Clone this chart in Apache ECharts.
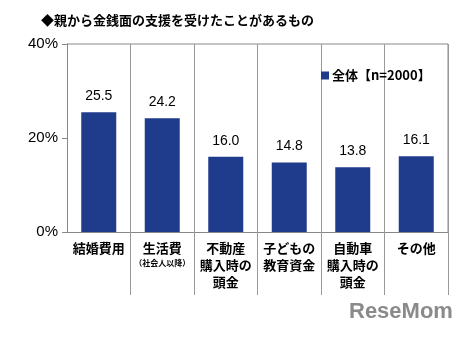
<!DOCTYPE html>
<html><head><meta charset="utf-8">
<script src="https://cdn.jsdelivr.net/npm/echarts@6/dist/echarts.min.js"></script>
<style>html,body{margin:0;padding:0;background:#fff}#c{width:458px;height:337px}</style>
</head><body><div id="c"></div>
<script>
const categories = ['結婚費用', '生活費\n{s|（社会人以降）}', '不動産\n購入時の\n頭金', '子どもの\n教育資金', '自動車\n購入時の\n頭金', 'その他'];
const values = [25.5, 24.2, 16.0, 14.8, 13.8, 16.1];
const seriesName = '全体【n=2000】';
const yTicks = [0, 20, 40];
const title = '◆親から金銭面の支援を受けたことがあるもの';

const font = '"Noto Sans CJK JP", sans-serif';
const chart = echarts.init(document.getElementById('c'));
chart.setOption({
  animation: false,
  textStyle: {fontFamily: font},
  title: {text: title, left: 36, top: 9, textStyle: {fontSize: 13, fontWeight: 'bold', color: '#000', fontFamily: font}},
  legend: {data: [seriesName], left: 316, top: 64, itemWidth: 8, itemHeight: 8, icon: 'rect', itemGap: 4,
    textStyle: {fontSize: 13, fontWeight: 'bold', color: '#000', fontFamily: font, padding: [0,0,0,-2]}},
  grid: {left: 67, right: 10, top: 44, bottom: 105},
  xAxis: {
    type: 'category', data: categories,
    axisLine: {show: true, lineStyle: {color: '#888', width: 1}},
    axisTick: {show: true, length: 63, interval: (i) => i !== 0, lineStyle: {color: '#999'}},
    splitLine: {show: true, interval: 0, lineStyle: {color: '#999'}},
    axisLabel: {interval: 0, margin: 8, fontSize: 13, fontWeight: 'bold', color: '#000', lineHeight: 17, fontFamily: font,
      rich: {s: {fontSize: 8, fontWeight: 'bold', lineHeight: 12, color: '#000'}}}
  },
  yAxis: {
    type: 'value', min: 0, max: 40, interval: 20,
    axisLine: {show: true, lineStyle: {color: '#888'}},
    axisTick: {show: true, length: 5, lineStyle: {color: '#888'}},
    splitLine: {show: false},
    axisLabel: {formatter: v => yTicks.includes(v) ? v + '%' : '', fontSize: 15, color: '#000', margin: 9, fontFamily: '"Liberation Sans", Arial, sans-serif'}
  },
  series: [{
    name: seriesName, type: 'bar', data: values, barWidth: 35,
    itemStyle: {color: '#1f3b8c'},
    label: {show: true, position: 'top', distance: 9, fontSize: 14, color: '#000', fontFamily: '"Liberation Sans", Arial, sans-serif',
      formatter: p => p.value.toFixed(1)}
  }],
  graphic: [
    {type: 'line', shape: {x1: 67, y1: 44, x2: 448, y2: 44}, style: {stroke: '#888', lineWidth: 1}},
    {type: 'line', shape: {x1: 448, y1: 44, x2: 448, y2: 232}, style: {stroke: '#888', lineWidth: 1}},
    {type: 'text', left: 349, top: 301, style: {text: 'ReseMom', fontSize: 22, fontWeight: 'bold', fill: '#8a8a8a', fontFamily: '"Liberation Sans", Arial, sans-serif'}}
  ]
});
</script></body></html>
